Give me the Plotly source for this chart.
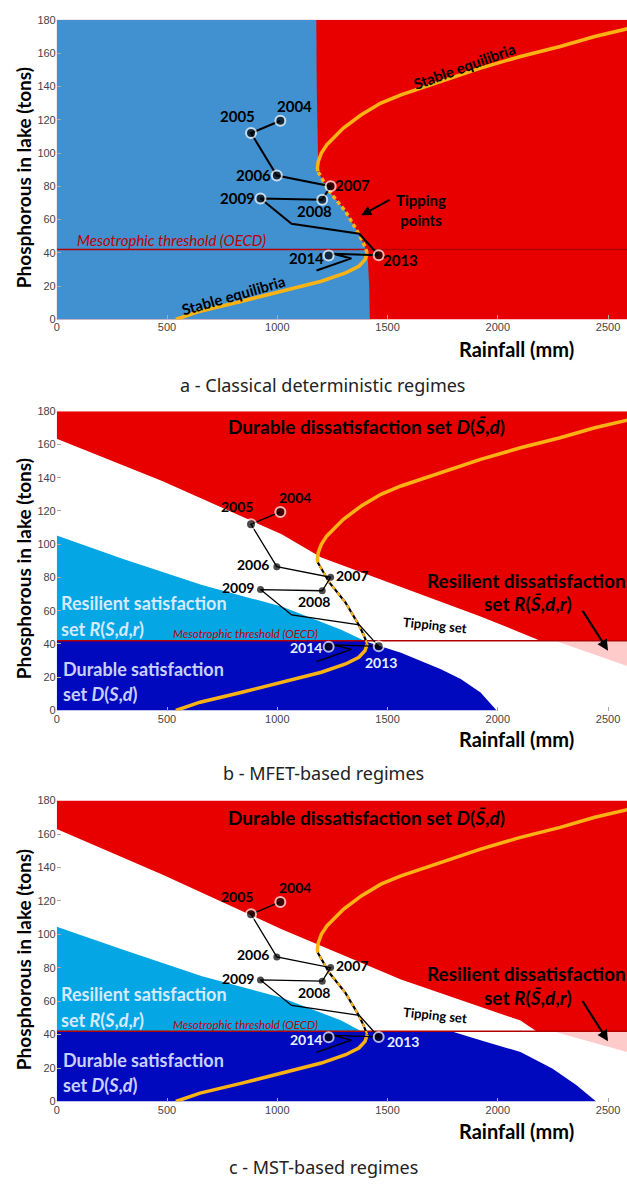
import plotly.graph_objects as go

# ---------------- data ----------------
x_ticks = [0, 500, 1000, 1500, 2000, 2500]
y_ticks = [0, 20, 40, 60, 80, 100, 120, 140, 160, 180]
X_MAX = 2586
THRESHOLD = 42

years = ["2004", "2005", "2006", "2007", "2008", "2009", "2013", "2014"]
obs_rain = [1014, 881, 998, 1242, 1204, 924, 1460, 1233]
obs_phos = [119.4, 112, 86.5, 80.1, 72, 72.7, 38.6, 38.4]

# trajectory incl. unlabeled intermediate years
path_rain = [1014, 881, 998, 1242, 1204, 924, 1065, 1372, 1460, 1253, 1336, 1178]
path_phos = [119.4, 112, 86.5, 80.1, 72, 72.7, 57.5, 51.5, 38.6, 39.5, 36.7, 29.4]

label_rain_a = [1080, 818, 890, 1341, 1168, 821, 1561, 1132]
label_phos_a = [128, 122, 87, 81, 65, 73, 35.7, 36.7]
label_rain_b = [1080, 818, 890, 1341, 1168, 821, 1471, 1132]
label_phos_b = [128, 122.4, 87.7, 81.4, 65.5, 73.8, 28.8, 37.7]
label_rain_c = [1080, 818, 890, 1341, 1168, 821, 1570, 1132]
label_phos_c = [128, 122.4, 87.7, 81.4, 65.5, 73.8, 35.9, 37.1]

# equilibrium curve (rainfall as function of phosphorus)
eq_lower_P = [0, 5, 11, 17, 23, 28, 32, 36, 40]
eq_lower_R = [540, 650, 840, 1020, 1200, 1310, 1370, 1398, 1408]
eq_unst_P = [40, 42, 46, 53, 65, 77, 85, 89]
eq_unst_R = [1408, 1402, 1390, 1363, 1309, 1236, 1200, 1184]
eq_upper_P = [89, 91, 95, 100, 105, 109, 115, 123, 130, 135, 143, 151, 158, 164, 170, 175]
eq_upper_R = [1184, 1182, 1186, 1200, 1225, 1255, 1300, 1381, 1470, 1561, 1742, 1922, 2103, 2283, 2440, 2600]

# panel a: blue/red boundary (top to bottom)
bnd_a_P = [180, 140, 100, 93, 89, 85, 77, 65, 53, 46, 42, 38, 20, 0]
bnd_a_R = [1177, 1179, 1182, 1184, 1186, 1200, 1236, 1309, 1363, 1390, 1402, 1410, 1417, 1420]

# panel b regions
red_b_R = [0, 478, 1020, 1200, 1561, 1922, 2193]
red_b_P = [163.4, 138, 106, 92, 74.4, 56.6, 42]
lb_b_R = [0, 298, 659, 1020, 1290, 1395]
lb_b_P = [105.2, 91.3, 75.4, 62.5, 48.6, 42]
db_b_R = [1390, 1561, 1742, 1832, 1922, 1995]
db_b_P = [42, 34.7, 24.8, 18.9, 10.9, 0]
pink_b_R = [2270, 2586]
pink_b_P = [41.5, 26.8]

# panel c regions
red_c_R = [0, 478, 1020, 1561, 2103, 2175]
red_c_P = [163, 135.8, 103, 73, 48.4, 42]
lb_c_R = [0, 298, 659, 1020, 1290, 1381]
lb_c_P = [104.6, 91, 75, 62, 48.5, 42]
db_c_R = [1796, 1922, 2103, 2247, 2356, 2446]
db_c_P = [41.8, 36.6, 29.6, 19.7, 9.9, 0]
pink_c_R = [2265, 2586]
pink_c_P = [41.5, 29.6]

# ---------------- style ----------------
RED = "#E80000"
BLUE_A = "#4190CF"
LIGHT_BLUE = "#05A6E4"
DARK_BLUE = "#0009BE"
PINK = "#FFCACA"
ORANGE = "#FBB313"
THR_COL = "#B40000"
BOLD = "Lato"

W, H = 627, 1187
x_dom = [54 / W, 1.0]
doms = {1: [1 - 316.7 / H, 1 - 14 / H], 2: [1 - 711.7 / H, 1 - 409.3 / H], 3: [1 - 1106.7 / H, 1 - 802.7 / H]}

fig = go.Figure()


def ax(i):
    return ("x" if i == 1 else f"x{i}"), ("y" if i == 1 else f"y{i}")


def poly(i, xs, ys, color):
    xa, ya = ax(i)
    fig.add_trace(go.Scatter(x=xs, y=ys, fill="toself", fillcolor=color, mode="lines",
                             line=dict(width=0, color=color), xaxis=xa, yaxis=ya,
                             showlegend=False, hoverinfo="skip"))


def line(i, xs, ys, color, width, dash="solid"):
    xa, ya = ax(i)
    fig.add_trace(go.Scatter(x=xs, y=ys, mode="lines", line=dict(color=color, width=width, dash=dash),
                             xaxis=xa, yaxis=ya, showlegend=False, hoverinfo="skip"))


# ---- panel a fills
poly(1, [0, X_MAX, X_MAX, 0], [0, 0, 180, 180], RED)
poly(1, [0] + bnd_a_R + [0], [180] + bnd_a_P + [0], BLUE_A)

# ---- panel b fills
poly(2, [0, X_MAX, X_MAX] + red_b_R[::-1], [180, 180, THRESHOLD] + red_b_P[::-1], RED)
poly(2, [0] + lb_b_R, [THRESHOLD] + lb_b_P, LIGHT_BLUE)
poly(2, [0, 0] + db_b_R, [0, THRESHOLD] + db_b_P, DARK_BLUE)
poly(2, pink_b_R + [X_MAX], pink_b_P + [THRESHOLD], PINK)

# ---- panel c fills
poly(3, [0, X_MAX, X_MAX] + red_c_R[::-1], [180, 180, THRESHOLD] + red_c_P[::-1], RED)
poly(3, [0] + lb_c_R, [THRESHOLD] + lb_c_P, LIGHT_BLUE)
poly(3, [0, 0] + db_c_R, [0, THRESHOLD] + db_c_P, DARK_BLUE)
poly(3, pink_c_R + [X_MAX], pink_c_P + [THRESHOLD], PINK)

for i in (1, 2, 3):
    # threshold
    line(i, [0, X_MAX], [THRESHOLD, THRESHOLD], THR_COL, 1.5)
    # equilibrium curve
    line(i, eq_lower_R, eq_lower_P, ORANGE, 3.5)
    line(i, eq_upper_R, eq_upper_P, ORANGE, 3.5)
    if i == 1:
        line(i, eq_unst_R, eq_unst_P, ORANGE, 3.5, "4px,3px")
    else:
        line(i, eq_unst_R, eq_unst_P, "#000000", 2.2)
        line(i, eq_unst_R, eq_unst_P, ORANGE, 2.2, "4px,4px")
    # trajectory
    line(i, path_rain, path_phos, "#000000", 2 if i == 1 else 1.3)
    xa, ya = ax(i)
    if i == 1:
        sizes = [10] * 8
        lw = [2] * 8
    else:
        sizes = [10, 10, 7, 7, 7, 7, 10, 10]
        lw = [2, 2, 0, 0, 0, 0, 2, 2]
    fig.add_trace(go.Scatter(x=obs_rain, y=obs_phos, mode="markers",
                             marker=dict(color="black", size=sizes, line=dict(color="white", width=lw)),
                             xaxis=xa, yaxis=ya, showlegend=False, hoverinfo="skip"))

annotations = []


def txt(i, x, y, s, size, color="black", bold=True, italic=False, angle=0, xanchor="center", family=BOLD):
    xa, ya = ax(i)
    if bold:
        s = f"<b>{s}</b>"
    if italic:
        s = f"<i>{s}</i>"
    annotations.append(dict(x=x, y=y, xref=xa, yref=ya, text=s, showarrow=False, textangle=angle,
                            xanchor=xanchor, yanchor="middle",
                            font=dict(family=family, size=size, color=color)))


# year labels
for i, (lr, lp) in enumerate([(label_rain_a, label_phos_a), (label_rain_b, label_phos_b),
                              (label_rain_c, label_phos_c)], start=1):
    for k, yr in enumerate(years):
        col = "black"
        if i > 1 and yr in ("2013", "2014"):
            col = "#E8F0FF"
        txt(i, lr[k], lp[k], yr, 15 if i == 1 else 14, col)

# panel a texts
txt(1, 1850, 152, "Stable equilibria", 15, angle=-20)
txt(1, 803, 14.5, "Stable equilibria", 15, angle=-16)
txt(1, 521, 47.6, "Mesotrophic threshold (OECD)", 15, color="#C00000", bold=False, italic=True)
txt(1, 1650, 66, "Tipping<br>points", 15)
annotations.append(dict(x=1381, y=62.6, ax=1516, ay=72.3, xref="x", yref="y", axref="x", ayref="y",
                        showarrow=True, arrowhead=2, arrowsize=1, arrowwidth=2, arrowcolor="black", text=""))

# panels b, c texts
for i, (yd, yr1, yr2) in zip((2, 3), ((170.7, 78.4, 64.1), (169.8, 76.5, 62.5))):
    xa, ya = ax(i)
    txt(i, 1403, yd, "Durable dissatisfaction set <i>D</i>(<i>S̄</i>,<i>d</i>)", 19)
    txt(i, 1670, yr1, "Resilient dissatisfaction", 19, xanchor="left")
    txt(i, 2139, yr2, "set <i>R</i>(<i>S̄</i>,<i>d</i>,<i>r</i>)", 19)
    txt(i, 9, 64.5, "Resilient satisfaction", 18, color="#D6EAFF", xanchor="left")
    txt(i, 9, 49, "set <i>R</i>(<i>S</i>,<i>d</i>,<i>r</i>)", 18, color="#D6EAFF", xanchor="left")
    txt(i, 18, 24.8, "Durable satisfaction", 18, color="#C9D0FF", xanchor="left")
    txt(i, 18, 9.9, "set <i>D</i>(<i>S</i>,<i>d</i>)", 18, color="#C9D0FF", xanchor="left")
    txt(i, 857, 46.3, "Mesotrophic threshold (OECD)", 11.5, color="#C00000", bold=False, italic=True)
    txt(i, 1715, 51.6, "Tipping set", 13, angle=6)
    annotations.append(dict(x=2500, y=36, ax=2380, ay=61, xref=xa, yref=ya, axref=xa, ayref=ya,
                            showarrow=True, arrowhead=2, arrowsize=1, arrowwidth=2.2, arrowcolor="black", text=""))

# axis titles and captions (paper coords)
ytitle_px = [173, 568, 963]
rain_px = [347, 740, 1136.7]
cap_px = [383, 775, 1173]
captions = ["a - Classical deterministic regimes", "b - MFET-based regimes", "c - MST-based regimes"]
for k in range(3):
    annotations.append(dict(x=20 / W, y=1 - ytitle_px[k] / H, xref="paper", yref="paper",
                            text="<b>Phosphorous in lake (tons)</b>", textangle=-90, showarrow=False,
                            xanchor="center", yanchor="middle",
                            font=dict(family=BOLD, size=19, color="black")))
    annotations.append(dict(x=516 / W, y=1 - rain_px[k] / H, xref="paper", yref="paper",
                            text="<b>Rainfall (mm)</b>", showarrow=False, xanchor="center", yanchor="middle",
                            font=dict(family=BOLD, size=20, color="black")))
    annotations.append(dict(x=322 / W, y=1 - cap_px[k] / H, xref="paper", yref="paper",
                            text=captions[k], showarrow=False, xanchor="center", yanchor="middle",
                            font=dict(family="Noto Sans", size=18, color="#222222")))

layout = dict(width=W, height=H, margin=dict(l=0, r=0, t=0, b=0), plot_bgcolor="white",
              paper_bgcolor="white", annotations=annotations, showlegend=False)
for i in (1, 2, 3):
    xk = "xaxis" if i == 1 else f"xaxis{i}"
    yk = "yaxis" if i == 1 else f"yaxis{i}"
    xa, ya = ax(i)
    layout[xk] = dict(domain=x_dom, range=[0, X_MAX], anchor=ya, tickvals=x_ticks,
                      ticktext=[str(v) for v in x_ticks], showgrid=False, zeroline=False,
                      ticks="inside", ticklen=4, tickcolor="#aaaaaa", showline=False,
                      tickfont=dict(family="Liberation Sans", size=11, color="#444444"))
    layout[yk] = dict(domain=doms[i], range=[0, 180], anchor=xa, tickvals=y_ticks,
                      ticktext=[str(v) for v in y_ticks], showgrid=False, zeroline=False,
                      ticks="inside", ticklen=4, tickcolor="#aaaaaa", showline=False,
                      tickfont=dict(family="Liberation Sans", size=11, color="#444444"))
fig.update_layout(**layout)
fig.write_html("out.html", config={"displayModeBar": False},
               post_script="document.body.style.margin='0';document.body.style.padding='0';"
                           "document.body.style.overflow='hidden';")
